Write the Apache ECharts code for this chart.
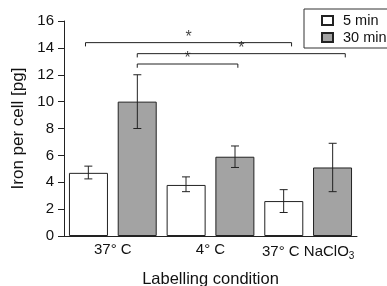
<!DOCTYPE html>
<html><head><meta charset="utf-8">
<script src="https://cdn.jsdelivr.net/npm/echarts@6/dist/echarts.min.js"></script>
<style>html,body{margin:0;padding:0;background:#fff}#c{width:387px;height:286px}</style>
</head><body><div id="c"></div>
<script>
var categories = ['37° C', '4° C', '37° C NaClO3'];
var yTicks = [0, 2, 4, 6, 8, 10, 12, 14, 16];
var min5 = [4.7, 3.8, 2.6];
var min5Low = [4.25, 3.3, 1.75];
var min5High = [5.2, 4.4, 3.45];
var min30 = [10.0, 5.9, 5.1];
var min30Low = [8.0, 5.1, 3.3];
var min30High = [12.0, 6.7, 6.9];
// significance brackets: [xStart, xEnd, yLevel] in category units (0..3)
var brackets = [[0.22, 2.33, 14.39], [0.75, 2.88, 13.57], [0.75, 1.78, 12.8]];

var chart = echarts.init(document.getElementById('c'), null, {renderer: 'canvas'});
var font = 'Liberation Sans, Arial, sans-serif';
var axisColor = '#222';

function errSeries(name, low, high, offsetIdx) {
  return {
    type: 'custom', name: name + ' err', xAxisIndex: 0, yAxisIndex: 0, z: 5,
    data: low.map(function (l, i) { return [i, l, high[i]]; }),
    renderItem: function (params, api) {
      var i = api.value(0);
      var c = api.coord([i, 0]);
      var x = c[0] + (offsetIdx === 0 ? -1 : 1) * 24.5;
      var lo = api.coord([i, api.value(1)])[1];
      var hi = api.coord([i, api.value(2)])[1];
      var cap = 4;
      var st = {stroke: '#222', lineWidth: 1};
      return {type: 'group', children: [
        {type: 'line', shape: {x1: x, y1: lo, x2: x, y2: hi}, style: st},
        {type: 'line', shape: {x1: x - cap, y1: lo, x2: x + cap, y2: lo}, style: st},
        {type: 'line', shape: {x1: x - cap, y1: hi, x2: x + cap, y2: hi}, style: st}
      ]};
    }
  };
}

var series = [
  {name: '5 min', type: 'bar', data: min5, barWidth: 39, barGap: '25%',
   itemStyle: {color: '#ffffff', borderColor: '#222', borderWidth: 1}},
  {name: '30 min', type: 'bar', data: min30, barWidth: 39,
   itemStyle: {color: '#a3a3a3', borderColor: '#222', borderWidth: 1}},
  errSeries('5 min', min5Low, min5High, 0),
  errSeries('30 min', min30Low, min30High, 1)
];
brackets.forEach(function (b) {
  var d = 0.28;
  series.push({
    type: 'line', xAxisIndex: 1, yAxisIndex: 0, symbol: 'none', silent: true,
    lineStyle: {color: '#222', width: 1},
    data: [[b[0], b[2] - d], [b[0], b[2]], [b[1], b[2]], [b[1], b[2] - d]]
  });
  series.push({
    type: 'scatter', xAxisIndex: 1, yAxisIndex: 0, symbolSize: 0, silent: true,
    data: [[(b[0] + b[1]) / 2, b[2]]],
    label: {show: true, formatter: '*', position: 'top', distance: -3,
            color: '#111', fontSize: 16, fontFamily: font}
  });
});

chart.setOption({
  animation: false,
  backgroundColor: '#fff',
  grid: {left: 64, right: 30, top: 21, bottom: 50, containLabel: false, outerBoundsMode: 'none'},
  legend: {
    data: ['5 min', '30 min'], orient: 'vertical', left: 304, top: 9,
    itemWidth: 11, itemHeight: 9, itemGap: 0, icon: 'rect',
    borderColor: '#333', borderWidth: 1, borderRadius: 0,
    padding: [3, 30, 2, 17],
    textStyle: {fontFamily: font, fontSize: 14.5, color: '#111', padding: [0, 0, 0, 5], lineHeight: 17}
  },
  xAxis: [{
    type: 'category', data: categories,
    axisLine: {lineStyle: {color: axisColor, width: 1}},
    axisTick: {length: 7, lineStyle: {color: axisColor}},
    axisLabel: {fontFamily: font, fontSize: 15, color: '#111', margin: 6, interval: 0,
      formatter: function (v) { return v.indexOf('NaClO3') >= 0 ? '37° C NaClO{s|3}' : v; },
      rich: {s: {fontSize: 10, verticalAlign: 'bottom', padding: [9, 0, 0, 0], fontFamily: font, color: '#111'}}},
    name: 'Labelling condition', nameLocation: 'middle', nameGap: 35,
    nameTextStyle: {fontFamily: font, fontSize: 16.5, color: '#111'}
  }, {
    type: 'value', min: 0, max: 3, show: false
  }],
  yAxis: [{
    type: 'value', min: yTicks[0], max: yTicks[yTicks.length - 1], interval: 2,
    axisLine: {show: true, lineStyle: {color: axisColor, width: 1}},
    axisTick: {show: true, length: 6, lineStyle: {color: axisColor}},
    splitLine: {show: false},
    axisLabel: {fontFamily: font, fontSize: 15, color: '#111', margin: 10},
    name: 'Iron per cell [pg]', nameLocation: 'middle', nameGap: 35,
    nameTextStyle: {fontFamily: font, fontSize: 17, color: '#111'}
  }],
  series: series
});
</script></body></html>
